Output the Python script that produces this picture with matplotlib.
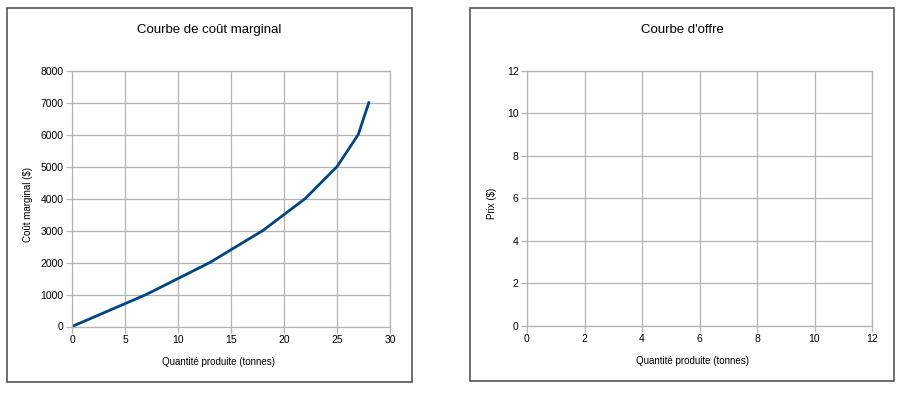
import matplotlib
matplotlib.use('Agg')
import matplotlib.pyplot as plt
from matplotlib.patches import Rectangle

# Data
quantite = [0, 7, 13, 18, 22, 25, 27, 28]
cout_marginal = [0, 1000, 2000, 3000, 4000, 5000, 6000, 7000]

x_ticks_cm = [0, 5, 10, 15, 20, 25, 30]
y_ticks_cm = [0, 1000, 2000, 3000, 4000, 5000, 6000, 7000, 8000]
ticks_offre = [0, 2, 4, 6, 8, 10, 12]

plt.rcParams['font.family'] = ['Liberation Sans', 'DejaVu Sans']

W, H = 906, 394
fig = plt.figure(figsize=(W / 100, H / 100), dpi=100)

def px(x0, y0, x1, y1):
    return [x0 / W, 1 - y1 / H, (x1 - x0) / W, (y1 - y0) / H]

# frames around each chart
for (x0, y0, x1, y1) in [(7, 8, 412, 382), (470, 8, 894, 381)]:
    fig.patches.append(Rectangle((x0 / W, 1 - y1 / H), (x1 - x0) / W, (y1 - y0) / H,
                                 transform=fig.transFigure, fill=False,
                                 edgecolor='#555555', linewidth=1.2))

grid_col = '#b3b3b3'

def style(ax):
    ax.grid(True, color=grid_col, linewidth=0.9)
    ax.set_axisbelow(True)
    for s in ax.spines.values():
        s.set_color(grid_col)
        s.set_linewidth(0.9)
    ax.tick_params(length=4, width=0.9, color=grid_col, labelsize=7.5, pad=2)

# left chart
ax1 = fig.add_axes(px(72, 70.7, 390, 326.5))
ax1.plot(quantite, cout_marginal, color='#004586', linewidth=2)
ax1.set_xlim(0, 30)
ax1.set_ylim(0, 8000)
ax1.set_xticks(x_ticks_cm)
ax1.set_yticks(y_ticks_cm)
style(ax1)
fig.text(209 / W, 1 - 30 / H, 'Courbe de coût marginal', ha='center', va='center', fontsize=9.5)
fig.text(219 / W, 1 - 362 / H, 'Quantité produite (tonnes)', ha='center', va='center', fontsize=7)
fig.text(28 / W, 1 - 205 / H, 'Coût marginal ($)', ha='center', va='center', fontsize=7, rotation=90)

# right chart
ax2 = fig.add_axes(px(527, 70.7, 872, 325.5))
ax2.set_xlim(0, 12)
ax2.set_ylim(0, 12)
ax2.set_xticks(ticks_offre)
ax2.set_yticks(ticks_offre)
style(ax2)
fig.text(682 / W, 1 - 30 / H, "Courbe d'offre", ha='center', va='center', fontsize=9.5)
fig.text(692 / W, 1 - 361 / H, 'Quantité produite (tonnes)', ha='center', va='center', fontsize=7)
fig.text(492 / W, 1 - 203 / H, 'Prix ($)', ha='center', va='center', fontsize=7, rotation=90)

fig.savefig('out.png', dpi=100)
